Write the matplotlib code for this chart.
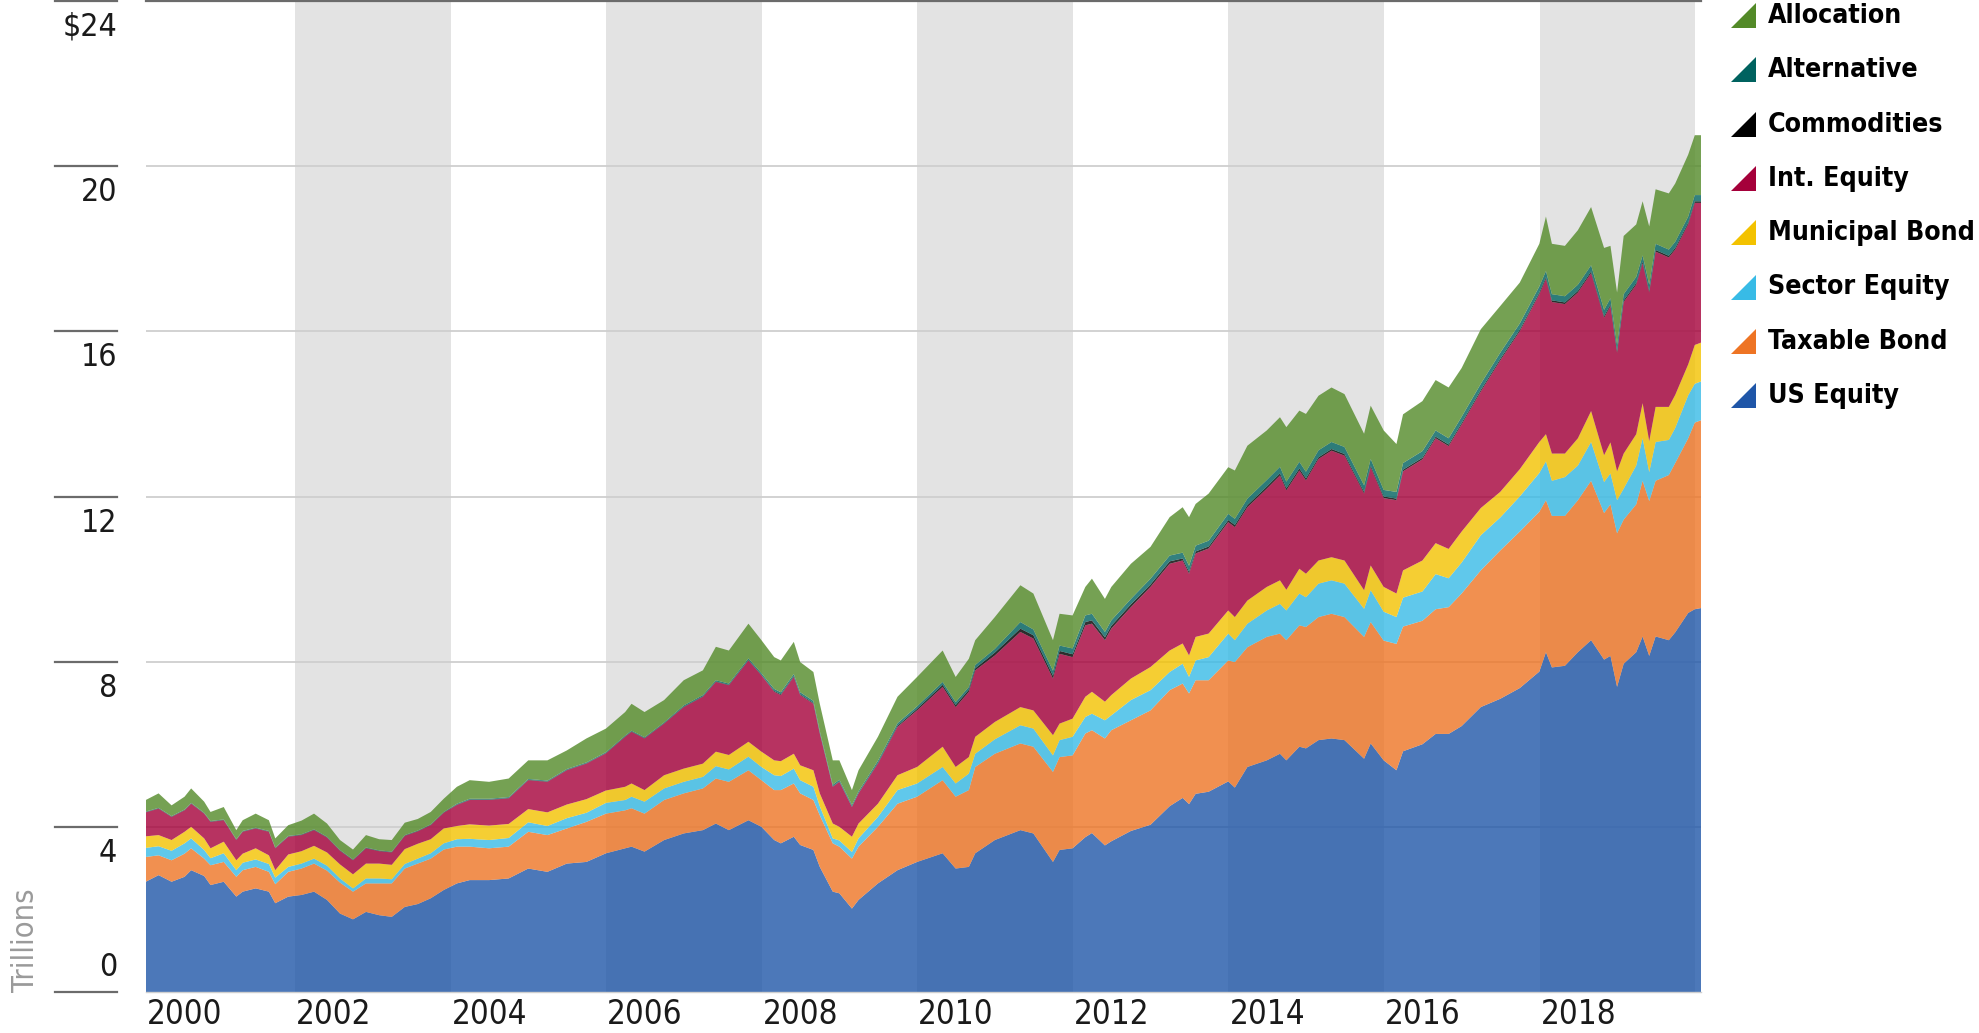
import matplotlib
matplotlib.use("Agg")
import matplotlib.pyplot as plt
import matplotlib.dates as mdates
import matplotlib.transforms as mtransforms
from matplotlib.font_manager import fontManager
from matplotlib.lines import Line2D
from matplotlib.patches import Polygon
import pandas as pd

# month-end dates of the readings (trillions of USD)
DATES = [
    "2000-01", "2000-03", "2000-05", "2000-07", "2000-08", "2000-10", "2000-11",
    "2001-01", "2001-03", "2001-04", "2001-06", "2001-08", "2001-09", "2001-11",
    "2002-01", "2002-03", "2002-05", "2002-07", "2002-09", "2002-11",
    "2003-01", "2003-03", "2003-05", "2003-07", "2003-09", "2003-11",
    "2004-01", "2004-03", "2004-06", "2004-09", "2004-12",
    "2005-03", "2005-06", "2005-09", "2005-12",
    "2006-03", "2006-04", "2006-06", "2006-09", "2006-12",
    "2007-03", "2007-05", "2007-07", "2007-10", "2007-12",
    "2008-02", "2008-03", "2008-05", "2008-06", "2008-08", "2008-09", "2008-11", "2008-12",
    "2009-02", "2009-03", "2009-06", "2009-09", "2009-12",
    "2010-04", "2010-06", "2010-08", "2010-09", "2010-12",
    "2011-04", "2011-06", "2011-09", "2011-10", "2011-12",
    "2012-02", "2012-03", "2012-05", "2012-06", "2012-09", "2012-12",
    "2013-03", "2013-05", "2013-06", "2013-07", "2013-09", "2013-12",
    "2014-01", "2014-03", "2014-06", "2014-08", "2014-09", "2014-11", "2014-12",
    "2015-02", "2015-04", "2015-06", "2015-09", "2015-10", "2015-12",
    "2016-02", "2016-03", "2016-06", "2016-08", "2016-10", "2016-12",
    "2017-03", "2017-06", "2017-09", "2017-12",
    "2018-01", "2018-02", "2018-04", "2018-06", "2018-08", "2018-10", "2018-11", "2018-12",
    "2019-01", "2019-03", "2019-04", "2019-05", "2019-06", "2019-08", "2019-09", "2019-11", "2019-12",
    "2020-01",
]

US_EQUITY = [
    2.67, 2.83, 2.67, 2.79, 2.95, 2.81, 2.59,
    2.67, 2.31, 2.43, 2.51, 2.43, 2.15, 2.31,
    2.35, 2.43, 2.23, 1.90, 1.76, 1.94,
    1.86, 1.82, 2.06, 2.13, 2.27, 2.47,
    2.63, 2.71, 2.71, 2.75, 2.99,
    2.91, 3.11, 3.15, 3.36,
    3.48, 3.52, 3.40, 3.68, 3.84,
    3.92, 4.08, 3.92, 4.16, 4.00,
    3.68, 3.60, 3.76, 3.56, 3.44, 3.03, 2.43, 2.39,
    2.02, 2.23, 2.63, 2.95, 3.15,
    3.36, 2.99, 3.03, 3.36, 3.68,
    3.92, 3.84, 3.15, 3.44, 3.48,
    3.75, 3.85, 3.55, 3.65, 3.90, 4.05,
    4.50, 4.70, 4.55, 4.80, 4.85, 5.10,
    4.95, 5.45, 5.61, 5.77, 5.61, 5.94, 5.90,
    6.10, 6.14, 6.10, 5.65, 6.02, 5.61,
    5.37, 5.83, 6.00, 6.25, 6.25, 6.44,
    6.90, 7.10, 7.36, 7.76,
    8.23, 7.86, 7.90, 8.23, 8.52, 8.05, 8.14, 7.39,
    7.95, 8.23, 8.61, 8.14, 8.61, 8.52, 8.71, 9.18, 9.27,
    9.30,
]
TAXABLE_BOND = [
    0.60, 0.48, 0.52, 0.56, 0.53, 0.42, 0.48,
    0.48, 0.48, 0.52, 0.52, 0.48, 0.46, 0.60,
    0.64, 0.68, 0.71, 0.75, 0.67, 0.69,
    0.77, 0.81, 0.93, 0.98, 0.96, 0.98,
    0.89, 0.81, 0.77, 0.77, 0.89,
    0.89, 0.85, 0.97, 0.96,
    0.92, 0.93, 0.92, 0.97, 0.97,
    1.01, 1.09, 1.17, 1.21, 1.13,
    1.21, 1.29, 1.29, 1.25, 1.21, 1.25, 1.17, 1.13,
    1.21, 1.29, 1.37, 1.61, 1.58,
    1.77, 1.74, 1.86, 2.09, 2.09,
    2.10, 2.10, 2.18, 2.25, 2.25,
    2.51, 2.49, 2.59, 2.69, 2.68, 2.77,
    2.81, 2.77, 2.68, 2.75, 2.70, 2.93,
    3.04, 2.90, 2.99, 2.91, 2.91, 2.94, 2.94,
    2.98, 3.02, 2.98, 2.95, 2.94, 2.90,
    3.06, 3.02, 2.99, 3.02, 3.07, 3.21,
    3.31, 3.59, 3.79, 3.87,
    3.68, 3.67, 3.63, 3.68, 3.86, 3.55, 3.67, 3.72,
    3.49, 3.58, 3.77, 3.75, 3.77, 4.00, 4.10, 4.23, 4.52,
    4.55,
]
SECTOR_EQUITY = [
    0.22, 0.22, 0.23, 0.25, 0.24, 0.21, 0.17,
    0.21, 0.16, 0.18, 0.18, 0.19, 0.16, 0.12,
    0.12, 0.12, 0.12, 0.10, 0.08, 0.12,
    0.12, 0.10, 0.11, 0.12, 0.13, 0.15,
    0.18, 0.19, 0.20, 0.21, 0.23,
    0.22, 0.25, 0.22, 0.26,
    0.25, 0.28, 0.29, 0.28, 0.28,
    0.28, 0.30, 0.30, 0.33, 0.32,
    0.36, 0.34, 0.36, 0.32, 0.32, 0.22, 0.12, 0.15,
    0.16, 0.20, 0.24, 0.33, 0.32,
    0.32, 0.32, 0.40, 0.32, 0.35,
    0.44, 0.44, 0.40, 0.41, 0.45,
    0.40, 0.40, 0.44, 0.36, 0.49, 0.49,
    0.44, 0.48, 0.40, 0.48, 0.56, 0.65,
    0.53, 0.57, 0.64, 0.72, 0.72, 0.77, 0.72,
    0.81, 0.81, 0.81, 0.68, 0.77, 0.70,
    0.65, 0.70, 0.71, 0.85, 0.70, 0.75,
    0.85, 0.80, 0.85, 0.94,
    0.94, 0.85, 0.94, 0.84, 0.94, 0.75, 0.75, 0.80,
    0.75, 0.94, 1.03, 0.70, 0.94, 0.85, 0.85, 1.04, 0.94,
    0.94,
]
MUNICIPAL_BOND = [
    0.28, 0.27, 0.26, 0.28, 0.28, 0.28, 0.24,
    0.28, 0.24, 0.22, 0.27, 0.21, 0.18, 0.30,
    0.30, 0.31, 0.32, 0.34, 0.34, 0.36,
    0.36, 0.35, 0.36, 0.36, 0.34, 0.36,
    0.32, 0.35, 0.35, 0.34, 0.32,
    0.33, 0.33, 0.33, 0.30,
    0.32, 0.32, 0.28, 0.32, 0.32,
    0.32, 0.35, 0.35, 0.36, 0.37,
    0.36, 0.36, 0.36, 0.36, 0.40, 0.31, 0.36, 0.33,
    0.37, 0.36, 0.32, 0.36, 0.40,
    0.49, 0.40, 0.40, 0.41, 0.42,
    0.44, 0.44, 0.49, 0.40, 0.44,
    0.49, 0.53, 0.45, 0.49, 0.52, 0.56,
    0.52, 0.49, 0.52, 0.57, 0.57, 0.56,
    0.56, 0.56, 0.57, 0.57, 0.50, 0.60, 0.57,
    0.56, 0.56, 0.56, 0.45, 0.60, 0.60,
    0.57, 0.66, 0.75, 0.75, 0.71, 0.75,
    0.66, 0.62, 0.66, 0.75,
    0.66, 0.66, 0.57, 0.66, 0.75, 0.65, 0.75, 0.70,
    0.85, 0.76, 0.85, 0.75, 0.85, 0.80, 0.80, 0.75, 0.94,
    0.94,
]
INT_EQUITY = [
    0.58, 0.64, 0.56, 0.52, 0.56, 0.60, 0.64,
    0.52, 0.49, 0.53, 0.48, 0.57, 0.53, 0.43,
    0.39, 0.38, 0.36, 0.33, 0.34, 0.37,
    0.30, 0.30, 0.32, 0.30, 0.34, 0.38,
    0.51, 0.59, 0.62, 0.62, 0.70,
    0.74, 0.83, 0.86, 0.90,
    1.21, 1.25, 1.25, 1.25, 1.49,
    1.62, 1.69, 1.69, 1.97, 1.85,
    1.66, 1.60, 1.86, 1.70, 1.61, 1.45, 0.89, 1.09,
    0.72, 0.73, 0.97, 1.17, 1.37,
    1.45, 1.45, 1.58, 1.61, 1.61,
    1.82, 1.74, 1.37, 1.69, 1.49,
    1.73, 1.65, 1.49, 1.61, 1.73, 1.94,
    2.10, 2.01, 1.98, 2.02, 2.06, 2.14,
    2.18, 2.26, 2.38, 2.54, 2.41, 2.38, 2.26,
    2.46, 2.58, 2.54, 2.34, 2.38, 2.15,
    2.26, 2.40, 2.45, 2.54, 2.49, 2.59,
    2.82, 3.18, 3.34, 3.58,
    3.76, 3.67, 3.62, 3.53, 3.34, 3.33, 3.30, 2.87,
    3.67, 3.62, 3.39, 3.60, 3.76, 3.62, 3.52, 3.39, 3.44,
    3.38,
]
COMMODITIES = [
    0.01, 0.01, 0.01, 0.01, 0.01, 0.01, 0.01,
    0.01, 0.01, 0.01, 0.01, 0.01, 0.01, 0.01,
    0.01, 0.01, 0.01, 0.01, 0.01, 0.01,
    0.01, 0.01, 0.01, 0.01, 0.01, 0.01,
    0.01, 0.01, 0.01, 0.01, 0.01,
    0.01, 0.01, 0.01, 0.01,
    0.01, 0.01, 0.01, 0.01, 0.01,
    0.01, 0.01, 0.01, 0.01, 0.01,
    0.02, 0.02, 0.02, 0.02, 0.02, 0.02, 0.01, 0.01,
    0.01, 0.01, 0.02, 0.03, 0.04,
    0.05, 0.05, 0.05, 0.05, 0.07,
    0.08, 0.08, 0.07, 0.07, 0.07,
    0.08, 0.08, 0.07, 0.07, 0.07, 0.06,
    0.06, 0.05, 0.05, 0.05, 0.05, 0.05,
    0.05, 0.05, 0.05, 0.05, 0.05, 0.05, 0.05,
    0.04, 0.04, 0.04, 0.04, 0.04, 0.04,
    0.04, 0.04, 0.04, 0.04, 0.04, 0.04,
    0.04, 0.04, 0.04, 0.04,
    0.04, 0.04, 0.04, 0.04, 0.04, 0.04, 0.04, 0.04,
    0.04, 0.04, 0.04, 0.04, 0.04, 0.04, 0.04, 0.04, 0.04,
    0.04,
]
ALTERNATIVE = [
    0.01, 0.01, 0.01, 0.01, 0.01, 0.01, 0.01,
    0.01, 0.01, 0.01, 0.01, 0.01, 0.01, 0.01,
    0.01, 0.01, 0.01, 0.01, 0.01, 0.01,
    0.01, 0.01, 0.01, 0.01, 0.01, 0.01,
    0.02, 0.02, 0.02, 0.02, 0.02,
    0.02, 0.02, 0.02, 0.02,
    0.02, 0.02, 0.02, 0.02, 0.03,
    0.03, 0.03, 0.03, 0.04, 0.04,
    0.05, 0.05, 0.05, 0.05, 0.05, 0.04, 0.04, 0.04,
    0.04, 0.04, 0.05, 0.06, 0.06,
    0.07, 0.07, 0.07, 0.08, 0.09,
    0.16, 0.14, 0.12, 0.13, 0.14,
    0.16, 0.16, 0.13, 0.13, 0.13, 0.14,
    0.14, 0.14, 0.14, 0.14, 0.14, 0.15,
    0.15, 0.16, 0.16, 0.16, 0.16, 0.16, 0.16,
    0.17, 0.17, 0.17, 0.16, 0.16, 0.16,
    0.16, 0.16, 0.16, 0.15, 0.15, 0.15,
    0.15, 0.15, 0.15, 0.15,
    0.15, 0.15, 0.15, 0.15, 0.15, 0.15, 0.15, 0.15,
    0.15, 0.15, 0.15, 0.15, 0.15, 0.15, 0.15, 0.15, 0.15,
    0.15,
]
ALLOCATION = [
    0.28, 0.35, 0.26, 0.31, 0.35, 0.27, 0.22,
    0.30, 0.22, 0.26, 0.34, 0.26, 0.22, 0.26,
    0.33, 0.38, 0.32, 0.24, 0.24, 0.30,
    0.27, 0.28, 0.30, 0.28, 0.30, 0.32,
    0.41, 0.45, 0.41, 0.45, 0.45,
    0.49, 0.45, 0.58, 0.57,
    0.57, 0.65, 0.61, 0.54, 0.61,
    0.60, 0.81, 0.80, 0.84, 0.80,
    0.77, 0.77, 0.78, 0.73, 0.70, 0.66, 0.59, 0.47,
    0.36, 0.51, 0.58, 0.64, 0.71,
    0.76, 0.61, 0.68, 0.60, 0.77,
    0.89, 0.87, 0.74, 0.77, 0.80,
    0.69, 0.85, 0.80, 0.81, 0.85, 0.77,
    0.93, 1.10, 1.18, 1.01, 1.14, 1.13,
    1.17, 1.28, 1.20, 1.20, 1.32, 1.24, 1.40,
    1.32, 1.32, 1.28, 1.25, 1.29, 1.44,
    1.16, 1.18, 1.21, 1.22, 1.23, 1.18,
    1.32, 1.13, 0.99, 1.03,
    1.32, 1.22, 1.22, 1.32, 1.41, 1.50, 1.27, 1.27,
    1.41, 1.27, 1.31, 1.41, 1.32, 1.36, 1.41, 1.50, 1.45,
    1.45,
]

# bottom-to-top stacking order, legend runs the other way
SERIES = [US_EQUITY, TAXABLE_BOND, SECTOR_EQUITY, MUNICIPAL_BOND,
          INT_EQUITY, COMMODITIES, ALTERNATIVE, ALLOCATION]
NAMES = ["US Equity", "Taxable Bond", "Sector Equity", "Municipal Bond",
         "Int. Equity", "Commodities", "Alternative", "Allocation"]
COLORS = ["#1f56a8", "#ee7424", "#38bbe6", "#f3c200",
          "#a5003a", "#000000", "#00625f", "#538a28"]

Y_TICKS = [0, 4, 8, 12, 16, 20, 24]
Y_LABELS = ["0", "4", "8", "12", "16", "20", "$24"]
X_YEARS = list(range(2000, 2020, 2))
SHADED = [(2002, 2004), (2006, 2008), (2010, 2012), (2014, 2016), (2018, 2020)]

W, H = 1979, 1033
GRID = "#cfcfcf"
DARK = "#6b6b6b"

names = {f.name for f in fontManager.ttflist}
if "Liberation Sans Narrow" in names:
    FONT, STRETCH, SCALE = "Liberation Sans Narrow", "normal", 1.0
else:
    FONT, STRETCH, SCALE = "DejaVu Sans", "condensed", 0.85
plt.rcParams["font.family"] = [FONT, "DejaVu Sans"]
plt.rcParams["font.stretch"] = STRETCH


def main():
    x = pd.to_datetime(DATES) + pd.offsets.MonthEnd(0)
    xn = mdates.date2num(x)

    fig = plt.figure(figsize=(W / 100, H / 100), dpi=100, facecolor="white")
    left, right = 145.8 / W, 1701.4 / W
    bottom, top = (H - 992) / H, 1 - 1.0 / H
    ax = fig.add_axes([left, bottom, right - left, top - bottom])

    for a, b in SHADED:
        ax.axvspan(mdates.date2num(pd.Timestamp(f"{a}-01-01")),
                   mdates.date2num(pd.Timestamp(f"{b}-01-01")),
                   color="#e3e3e3", lw=0, zorder=0)
    for v in Y_TICKS[1:-1]:
        ax.axhline(v, color=GRID, lw=1.3, zorder=1)

    ax.stackplot(xn, *SERIES, colors=COLORS, alpha=0.8, linewidth=0, zorder=2)

    ax.set_xlim(xn[0], xn[-1])
    ax.set_ylim(0, 24)
    ax.set_xticks([])
    ax.set_yticks([])
    for side in ("left", "right"):
        ax.spines[side].set_visible(False)
    ax.spines["top"].set_color(DARK)
    ax.spines["top"].set_linewidth(1.6)
    ax.spines["bottom"].set_color(GRID)
    ax.spines["bottom"].set_linewidth(1.0)

    # y labels: short rule left of the plot with the value hanging below it
    blend_y = mtransforms.blended_transform_factory(fig.transFigure, ax.transData)
    for v, lab in zip(Y_TICKS, Y_LABELS):
        fig.add_artist(Line2D([55 / W, 117 / W], [v, v], transform=blend_y,
                              color=DARK, lw=1.6, clip_on=False))
        if v == 0:
            off, va = 9, "bottom"
        else:
            off, va = -11, "top"
        ax.annotate(lab, xy=(117 / W, v), xycoords=blend_y,
                    xytext=(0, off), textcoords="offset pixels",
                    ha="right", va=va, fontsize=27 * SCALE, color="#1a1a1a",
                    annotation_clip=False, parse_math=False)

    fig.text(26 / W, (H - 992) / H, "Trillions", rotation=90, ha="center",
             va="bottom", fontsize=26 * SCALE, color="#9a9a9a")

    # year labels sit to the right of the year start
    for yr in X_YEARS:
        pos = max(mdates.date2num(pd.Timestamp(f"{yr}-01-01")), xn[0])
        ax.annotate(str(yr), xy=(pos, 0), xycoords=ax.get_xaxis_transform(),
                    xytext=(1, -6), textcoords="offset pixels",
                    ha="left", va="top", fontsize=28 * SCALE, color="#1a1a1a",
                    annotation_clip=False)

    # legend with right-triangle swatches
    for i, (name, color) in enumerate(zip(NAMES[::-1], COLORS[::-1])):
        yc = 15 + 54.3 * i
        tri = [(1731 / W, 1 - (yc + 13) / H), (1756 / W, 1 - (yc + 13) / H),
               (1756 / W, 1 - (yc - 12) / H)]
        fig.add_artist(Polygon(tri, closed=True, transform=fig.transFigure,
                               facecolor=color, edgecolor="none"))
        fig.text(1768 / W, 1 - (yc + 1) / H, name, ha="left", va="center",
                 fontsize=22.5 * SCALE, fontweight="bold", color="#000000")

    fig.savefig("out.png", dpi=100, facecolor="white")
    plt.close(fig)


if __name__ == "__main__":
    main()
